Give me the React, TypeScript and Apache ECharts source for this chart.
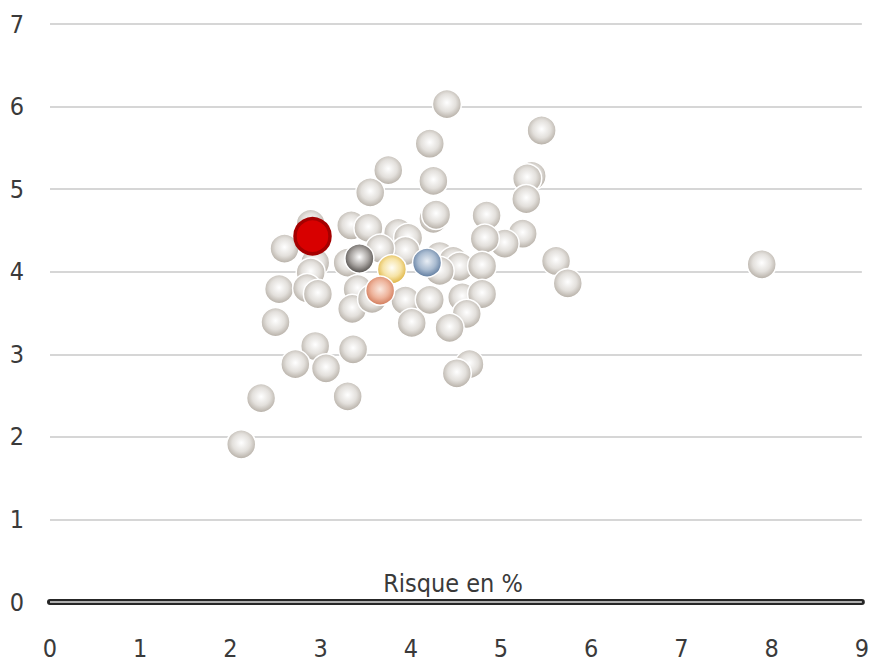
import React, { useEffect, useRef } from "react";
import * as echarts from "echarts";

const xTicks = [0, 1, 2, 3, 4, 5, 6, 7, 8, 9];
const yTicks = [0, 1, 2, 3, 4, 5, 6, 7];
const axisTitle = "Risque en %";

// [risk %, return %]
const grayPoints: number[][] = [
  [4.40, 6.03], [5.45, 5.71], [4.21, 5.55], [3.75, 5.23], [4.25, 5.10],
  [5.34, 5.16], [5.29, 5.13], [5.28, 4.88], [3.55, 4.96], [2.89, 4.58],
  [2.60, 4.28], [3.34, 4.56], [3.53, 4.53], [4.25, 4.64], [4.28, 4.69],
  [4.84, 4.68], [5.24, 4.46], [5.04, 4.34], [4.82, 4.40], [2.94, 4.11],
  [3.30, 4.11], [2.89, 3.99], [3.86, 4.47], [3.97, 4.41], [3.94, 4.25],
  [3.66, 4.28], [4.32, 4.19], [4.47, 4.13], [4.54, 4.06], [4.32, 4.01],
  [4.79, 4.07], [5.61, 4.13], [5.74, 3.86], [7.89, 4.09], [2.54, 3.79],
  [2.85, 3.80], [2.97, 3.73], [3.41, 3.79], [3.35, 3.55], [3.57, 3.67],
  [3.94, 3.65], [4.21, 3.66], [4.57, 3.69], [4.79, 3.73], [4.62, 3.49],
  [4.01, 3.38], [4.43, 3.32], [2.50, 3.39], [2.94, 3.10], [2.72, 2.88],
  [3.06, 2.83], [3.36, 3.06], [2.34, 2.47], [3.30, 2.49], [2.12, 1.91],
  [4.65, 2.88], [4.51, 2.77],
];
const darkPoint = [3.43, 4.16];
const yellowPoint = [3.79, 4.03];
const bluePoint = [4.18, 4.11];
const salmonPoint = [3.66, 3.77];
const redPoint = [2.91, 4.43];

const FONT = "'Liberation Sans Narrow', 'DejaVu Sans Condensed', 'Liberation Sans', sans-serif";
const TEXT = "#3a3a3a";

function ball(center: string, mid: string, edge: string) {
  return {
    type: "radial",
    x: 0.5,
    y: 0.45,
    r: 0.56,
    colorStops: [
      { offset: 0, color: center },
      { offset: 0.55, color: mid },
      { offset: 1, color: edge },
    ],
  };
}

export default function App() {
  const ref = useRef<HTMLDivElement>(null);
  useEffect(() => {
    if (!ref.current) return;
    const chart = echarts.init(ref.current, undefined, { renderer: "svg" });
    const ballSeries = (name: string, data: number[][], color: any, size = 29) => ({
      name,
      type: "scatter",
      data,
      symbolSize: size,
      itemStyle: { color, borderColor: "#ffffff", borderWidth: 1.5, opacity: 1 },
      z: 3,
    });
    chart.setOption({
      animation: false,
      grid: { left: 50, right: 7, top: 24, bottom: 61 },
      xAxis: {
        type: "value",
        min: xTicks[0],
        max: xTicks[xTicks.length - 1],
        interval: 1,
        axisLine: { show: true, lineStyle: { color: "#262626", width: 6 } },
        axisTick: { show: false },
        splitLine: { show: false },
        axisLabel: { margin: 34, fontSize: 25, lineHeight: 25, color: TEXT, fontFamily: FONT },
      },
      yAxis: {
        type: "value",
        min: yTicks[0],
        max: yTicks[yTicks.length - 1],
        interval: 1,
        axisLine: { show: false },
        axisTick: { show: false },
        splitLine: { show: true, lineStyle: { color: "#c8c8c8", width: 1.5 } },
        axisLabel: { margin: 26, fontSize: 25, color: TEXT, fontFamily: FONT },
      },
      graphic: [
        {
          type: "text",
          x: 453,
          y: 583,
          z: 10,
          style: {
            text: axisTitle,
            fontSize: 25,
            fontFamily: FONT,
            fill: TEXT,
            textAlign: "center",
            textVerticalAlign: "middle",
          },
        },
      ],
      series: [
        {
          ...ballSeries("gray", grayPoints, ball("#ffffff", "#e3e0dc", "#b3aca3")),
          markLine: {
            silent: true,
            symbol: "none",
            label: { show: false },
            lineStyle: { color: "#dedede", width: 1.5, type: "solid" },
            data: [{ yAxis: 0 }],
            z: 1,
          },
        },
        ballSeries("dark", [darkPoint], ball("#ffffff", "#a9a5a2", "#4f4b48")),
        ballSeries("yellow", [yellowPoint], ball("#fffef6", "#f6e3a6", "#ddb03a")),
        ballSeries("blue", [bluePoint], ball("#e8eef5", "#a9bbd0", "#5a779b")),
        ballSeries("salmon", [salmonPoint], ball("#fbe9e0", "#eeb49c", "#cf7756")),
        {
          name: "red",
          type: "scatter",
          data: [redPoint],
          symbolSize: 35,
          itemStyle: { color: "#d80000", borderColor: "#a50000", borderWidth: 3.5, opacity: 1 },
          z: 4,
        },
      ],
    });
    return () => chart.dispose();
  }, []);
  return (
    <div
      ref={ref}
      style={{ position: "fixed", left: 0, top: 0, width: 872, height: 663, background: "#ffffff" }}
    />
  );
}
